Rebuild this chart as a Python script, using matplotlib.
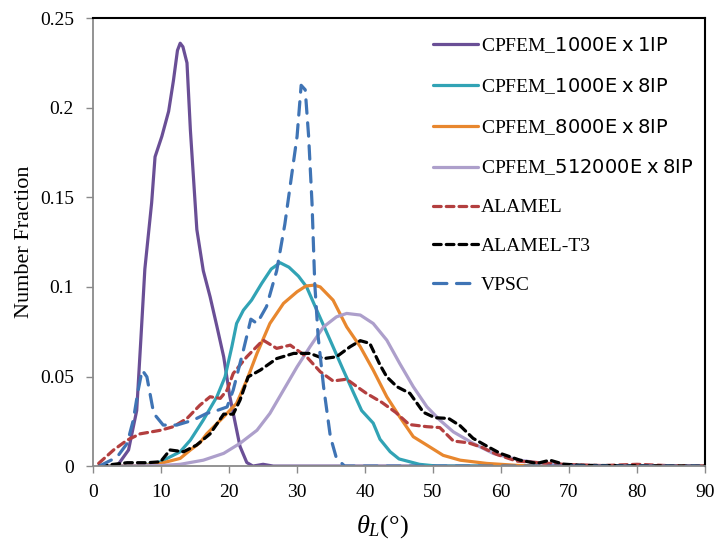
import matplotlib
matplotlib.use('Agg')
import matplotlib.pyplot as plt

plt.rcParams['font.family'] = 'Liberation Serif'
plt.rcParams['mathtext.fontset'] = 'custom'
plt.rcParams['mathtext.rm'] = 'Liberation Serif'
plt.rcParams['mathtext.it'] = 'Liberation Serif:italic'
plt.rcParams['mathtext.sf'] = 'DejaVu Sans'

# misorientation angle distributions (number fraction vs theta_L)
e1_x = [1, 3.5, 5.2, 6.4, 7.0, 7.6, 8.6, 9.1, 10.1, 11.1, 11.8, 12.4, 12.8, 13.2, 13.8, 14.3,
        15.25, 16.2, 17.2, 18.2, 19.2, 20.1, 20.9, 21.6, 22.6, 23.5, 25, 26.5, 90]
e1_y = [0, 0, 0.009, 0.031, 0.07, 0.11, 0.147, 0.1726, 0.184, 0.198, 0.215, 0.232, 0.236, 0.234, 0.225, 0.1875,
        0.132, 0.109, 0.0945, 0.078, 0.061, 0.039, 0.024, 0.011, 0.002, 0, 0.001, 0, 0]

e8_x = [1, 5, 7.5, 9.9, 12.8, 14.3, 16.2, 18.2, 19.4, 20.4, 21.1, 22.1, 23.3, 24.8, 26.2, 27.5, 28.8,
        30.2, 31.4, 32.9, 34.9, 36.8, 38.3, 39.5, 41.2, 42.2, 43.7, 45, 46.6, 48, 50.6, 90]
e8_y = [0, 0, 0.0005, 0.0024, 0.008, 0.0145, 0.0257, 0.0387, 0.0498, 0.0666, 0.0796, 0.087, 0.0926, 0.102, 0.110, 0.1135, 0.111,
        0.106, 0.100, 0.087, 0.070, 0.0536, 0.041, 0.031, 0.024, 0.015, 0.008, 0.004, 0.0024, 0.001, 0, 0]

e8k_x = [1, 7.4, 9.9, 12.8, 14.3, 15.7, 16.7, 19.2, 21.1, 22.6, 24.1, 26, 28, 30, 31.3, 32.5, 33.4, 35.3,
         37.3, 39.3, 41.2, 43.2, 45.1, 47.1, 49.1, 51.5, 54, 57.9, 62, 65, 90]
e8k_y = [0, 0.0003, 0.0015, 0.0043, 0.009, 0.013, 0.018, 0.0275, 0.035, 0.048, 0.0629, 0.0796, 0.0908, 0.0973, 0.1005, 0.101, 0.100, 0.0926,
         0.0777, 0.0666, 0.0536, 0.0387, 0.0275, 0.0164, 0.0117, 0.006, 0.0033, 0.0015, 0.0005, 0, 0]

e512k_x = [1, 9.9, 12.8, 16.2, 19.2, 21.6, 24.1, 26, 28, 30, 31.9, 33.9, 35.8, 37.3, 39.3, 41.2, 43.2, 45.1,
           47.1, 49.1, 51, 53, 55.9, 58.9, 62.8, 65.7, 69.6, 74, 80, 90]
e512k_y = [0, 0.0003, 0.001, 0.0033, 0.0071, 0.0127, 0.020, 0.0294, 0.0424, 0.0554, 0.0666, 0.0777, 0.0833, 0.0852, 0.0843, 0.0796, 0.0703, 0.0573,
           0.0443, 0.0331, 0.0257, 0.0191, 0.0127, 0.007, 0.0033, 0.0017, 0.0007, 0.0003, 0, 0]

alamel_x = [0.8, 3, 5, 6.9, 9.9, 11.8, 13.8, 15.7, 17.2, 18.7, 19.7, 20.6, 22.6, 25, 27, 29, 31.4, 33.4, 35.3, 37.3,
            39.3, 40.2, 42.5, 44.5, 46.5, 49.1, 51, 53, 55.2, 57.2, 59.4, 62.3, 65.3, 70, 75, 80, 85, 90]
alamel_y = [0.0015, 0.009, 0.0145, 0.018, 0.020, 0.022, 0.0266, 0.034, 0.0387, 0.0378, 0.0424, 0.0517, 0.061, 0.0703, 0.0657, 0.0675, 0.061, 0.0527, 0.0475, 0.0485,
            0.0430, 0.0406, 0.0355, 0.0300, 0.0232, 0.022, 0.0215, 0.014, 0.013, 0.0105, 0.0065, 0.0028, 0.002, 0.0008, 0.0003, 0.001, 0.0002, 0]

t3_x = [0.9, 5, 7.9, 9.9, 11.3, 13.3, 15.2, 17.2, 19.2, 20.6, 21.6, 22.8, 24.6, 27, 29.5, 31.9, 33.9, 35.8, 37.8, 39.3,
        40.7, 42.2, 43.2, 44.7, 46.6, 48.6, 50.3, 52.3, 54, 55.9, 57.9, 59.9, 62.8, 65.3, 67.2, 69.2, 72, 80, 90]
t3_y = [0, 0.0019, 0.0019, 0.0024, 0.009, 0.008, 0.0117, 0.018, 0.029, 0.029, 0.0368, 0.0498, 0.0536, 0.060, 0.0629, 0.0629, 0.060, 0.061, 0.0666, 0.0700,
        0.0685, 0.0565, 0.0498, 0.0443, 0.0406, 0.0300, 0.0270, 0.0266, 0.0225, 0.0155, 0.0112, 0.0071, 0.0033, 0.0015, 0.0033, 0.0011, 0.0004, 0.0002, 0]

vpsc_x = [0.9, 3.5, 5, 5.9, 6.6, 7.2, 7.9, 8.9, 10.3, 12.3, 14.75, 16.7, 18.2, 19.7, 20.6, 22.1, 23.2,
          24.1, 25.5, 27, 28.2, 29.3, 30, 30.6, 31.2, 31.7, 32.2, 32.6, 33.1, 33.9, 34.9, 35.8, 37, 90]
vpsc_y = [0, 0.005, 0.0127, 0.0257, 0.042, 0.0536, 0.0498, 0.0294, 0.0229, 0.0229, 0.0257, 0.0294, 0.031, 0.033, 0.0424, 0.0647, 0.0820,
          0.0796, 0.089, 0.109, 0.135, 0.165, 0.184, 0.2125, 0.21, 0.184, 0.1466, 0.102, 0.0722, 0.0443, 0.0164, 0.0043, 0, 0]

labels = [r'CPFEM_$\mathsf{1000E\ x\ 1IP}$',
          r'CPFEM_$\mathsf{1000E\ x\ 8IP}$',
          r'CPFEM_$\mathsf{8000E\ x\ 8IP}$',
          r'CPFEM_$\mathsf{512000E\ x\ 8IP}$',
          'ALAMEL', 'ALAMEL-T3', 'VPSC']

fig = plt.figure(figsize=(7.17, 5.49), dpi=100)
ax = fig.add_axes([0.130, 0.151, 0.853, 0.816])

lw = 2.3
kw = dict(lw=lw, solid_joinstyle='round', solid_capstyle='round', dash_capstyle='round')
ax.plot(e1_x, e1_y, color='#6a4f96', label=labels[0], **kw)
ax.plot(e8_x, e8_y, color='#31a3b5', label=labels[1], **kw)
ax.plot(e8k_x, e8k_y, color='#e8872e', label=labels[2], **kw)
ax.plot(e512k_x, e512k_y, color='#ad9fcb', label=labels[3], **kw)
ax.plot(alamel_x, alamel_y, color='#b33f3f', ls=(0, (2.4, 1.6)), label=labels[4], **kw)
ax.plot(t3_x, t3_y, color='black', ls=(0, (2.4, 1.6)), label=labels[5], **kw)
ax.plot(vpsc_x, vpsc_y, color='#3f74b5', ls=(0, (4.2, 3.0)), label=labels[6], **kw)

ax.set_xlim(0, 90)
ax.set_ylim(0, 0.25)
ax.set_xticks(range(0, 91, 10))
ax.set_yticks([0, 0.05, 0.1, 0.15, 0.2, 0.25])
ax.set_yticklabels(['0', '0.05', '0.1', '0.15', '0.2', '0.25'])
ax.tick_params(direction='out', length=5, width=1, color='#8a8a8a', labelsize=14)
ax.tick_params(axis='y', pad=9)
ax.tick_params(axis='x', pad=8)

for side in ['left', 'bottom']:
    ax.spines[side].set_color('#8a8a8a')
    ax.spines[side].set_linewidth(1.3)
for side in ['top', 'right']:
    ax.spines[side].set_color('black')
    ax.spines[side].set_linewidth(1.5)

ax.set_ylabel('Number Fraction', fontsize=16, labelpad=4)
ax.set_xlabel(r'$\theta_L$(°)', fontsize=19, labelpad=6)
ax.xaxis.set_label_coords((382 - 93) / 612, -0.105)

ax.legend(loc='upper left', bbox_to_anchor=(433 / 717, 1 - 35 / 549), bbox_transform=fig.transFigure,
          frameon=False, fontsize=14, handlelength=2.3, handletextpad=0.15,
          labelspacing=1.09, borderpad=0, borderaxespad=0)

fig.savefig('out.png', dpi=100)
